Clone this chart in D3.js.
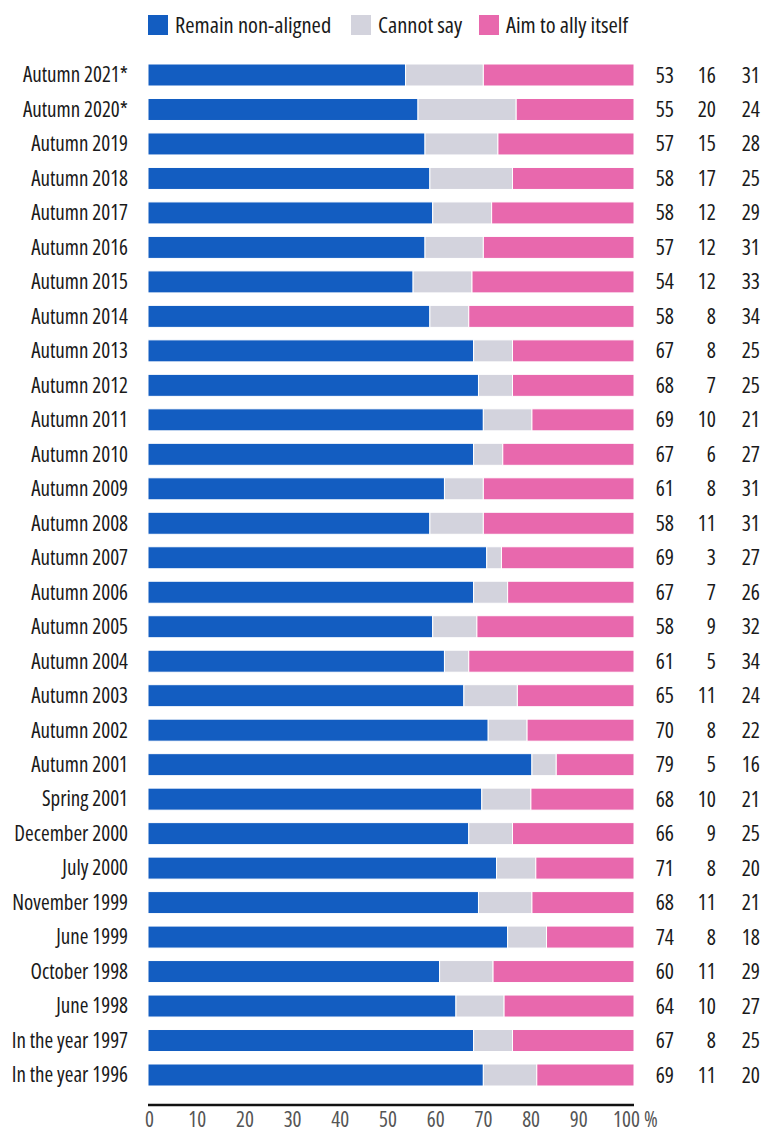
<!DOCTYPE html>
<html>
<head>
	<meta charset="utf-8">
	<title>Non-alignment survey</title>
</head>

<style>
	body { margin:0; background:#fff; }
	text { font-family:"Open Sans",sans-serif; font-stretch:condensed; }
</style>

<body>
<script src="https://d3js.org/d3.v7.min.js" charset="utf-8"></script>
<svg width="763" height="1134"></svg>
<script>

	var categories = ["Autumn 2021*","Autumn 2020*","Autumn 2019","Autumn 2018","Autumn 2017","Autumn 2016",
		"Autumn 2015","Autumn 2014","Autumn 2013","Autumn 2012","Autumn 2011","Autumn 2010","Autumn 2009",
		"Autumn 2008","Autumn 2007","Autumn 2006","Autumn 2005","Autumn 2004","Autumn 2003","Autumn 2002",
		"Autumn 2001","Spring 2001","December 2000","July 2000","November 1999","June 1999","October 1998",
		"June 1998","In the year 1997","In the year 1996"];

	var nonAligned = [53,55,57,58,58,57,54,58,67,68,69,67,61,58,69,67,58,61,65,70,79,68,66,71,68,74,60,64,67,69];
	var cannotSay  = [16,20,15,17,12,12,12, 8, 8, 7,10, 6, 8,11, 3, 7, 9, 5,11, 8, 5,10, 9, 8,11, 8,11,10, 8,11];
	var ally       = [31,24,28,25,29,31,33,34,25,25,21,27,31,31,27,26,32,34,24,22,16,21,25,20,21,18,29,27,25,20];

	var seriesNames = ["Remain non-aligned","Cannot say","Aim to ally itself"];
	var seriesColors = ["#135dc1","#d3d3dd","#e868ad"];
	var tickValues = [0,10,20,30,40,50,60,70,80,90,100];

	var svg = d3.select("svg");

	var x = d3.scaleLinear()
			  .domain([0,100])
			  .range([148,634]);

	// the tick labels sit on a slightly tighter spacing than the bars
	var xLabel = d3.scaleLinear()
				   .domain([0,100])
				   .range([149,626]);

	var y = d3.scalePoint()
			  .domain(categories)
			  .range([75,1075]);

	var barHeight = 22;

	var rows = categories.map(function(c,i){
		var vals = [nonAligned[i],cannotSay[i],ally[i]];
		var total = d3.sum(vals);
		var acc = 0;
		return {
			name:c,
			vals:vals,
			segs:vals.map(function(v,j){
				var s = {x0:acc*100/total,x1:(acc+v)*100/total,color:seriesColors[j]};
				acc += v;
				return s;
			})
		};
	});

	// legend
	var legendX = [148,351,479];
	var legend = svg.append("g").selectAll("g")
					.data(seriesNames)
					.enter()
					.append("g")
					.attr("transform",function(d,i){ return "translate("+ legendX[i] +",15)"; });

	legend.append("rect")
		  .attr("width",20)
		  .attr("height",20)
		  .attr("fill",function(d,i){ return seriesColors[i]; });

	legend.append("text")
		  .attr("x",27)
		  .attr("y",10)
		  .attr("dy","0.35em")
		  .attr("font-size",22.5)
		  .attr("fill","#1a1a1a")
		  .text(function(d){ return d; });

	// bars
	var row = svg.append("g").selectAll("g")
				 .data(rows)
				 .enter()
				 .append("g")
				 .attr("transform",function(d){ return "translate(0,"+ y(d.name) +")"; });

	row.selectAll("rect")
	   .data(function(d){ return d.segs; })
	   .enter()
	   .append("rect")
	   .attr("x",function(d){ return x(d.x0); })
	   .attr("y",-barHeight/2)
	   .attr("width",function(d){ return x(d.x1)-x(d.x0); })
	   .attr("height",barHeight)
	   .attr("fill",function(d){ return d.color; })
	   .attr("stroke","#fff")
	   .attr("stroke-width",1);

	row.append("text")
	   .attr("x",128)
	   .attr("dy","0.35em")
	   .attr("text-anchor","end")
	   .attr("font-size",21)
	   .attr("fill","#1a1a1a")
	   .text(function(d){ return d.name; });

	var valueX = [674,716,760];
	row.selectAll(".val")
	   .data(function(d){ return d.vals; })
	   .enter()
	   .append("text")
	   .attr("class","val")
	   .attr("x",function(d,i){ return valueX[i]; })
	   .attr("dy","0.35em")
	   .attr("text-anchor","end")
	   .attr("font-size",21.5)
	   .attr("fill","#1a1a1a")
	   .text(function(d){ return d; });

	// axis
	svg.append("line")
	   .attr("x1",x(0))
	   .attr("x2",x(100))
	   .attr("y1",1105)
	   .attr("y2",1105)
	   .attr("stroke","#111")
	   .attr("stroke-width",2.5);

	var axis = svg.append("g")
				  .attr("transform","translate(0,1112)")
				  .call(d3.axisBottom(xLabel).tickValues(tickValues).tickSize(0).tickPadding(0));

	axis.select(".domain").remove();
	axis.selectAll("text")
		.attr("font-size",21)
		.attr("font-family","\"Open Sans\",sans-serif")
		.style("font-stretch","condensed")
		.attr("fill","#555");

	svg.append("text")
	   .attr("x",xLabel(100)+18)
	   .attr("y",1127)
	   .attr("font-size",21)
	   .attr("fill","#555")
	   .text("%");

</script>
</body>
</html>
